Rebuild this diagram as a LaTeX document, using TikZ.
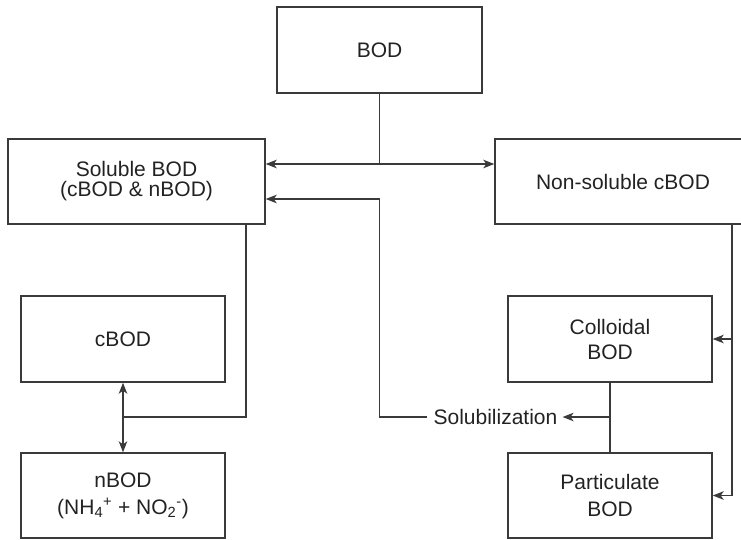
\documentclass[tikz,border=0pt]{standalone}
\usepackage{fontspec}
\setmainfont{Liberation Sans}
\usetikzlibrary{arrows.meta}
\definecolor{ink}{HTML}{222222}
\definecolor{wire}{HTML}{3a3a3a}
\begin{document}
\begin{tikzpicture}[x=1pt,y=-1pt,
  box/.style={draw=wire,line width=1.4pt,rectangle,text=ink,align=center,
              font=\fontsize{21}{25}\selectfont,inner sep=0pt},
  link/.style={draw=wire,line width=1.4pt},
  tip/.style={link,-{Stealth[length=11pt,width=8.5pt,inset=3pt]}},
  twotip/.style={link,{Stealth[length=11pt,width=8.5pt,inset=3pt]}-{Stealth[length=11pt,width=8.5pt,inset=3pt]}}]
\useasboundingbox (0,0) rectangle (741,539);
\clip (0,0) rectangle (741,539);

% boxes
\node[box,minimum width=205pt,minimum height=86pt] (bod) at (379.5,50) {BOD};
\node[box,minimum width=257pt,minimum height=85pt,font=\fontsize{21}{20}\selectfont] (sol) at (136.5,181.5)
  {Soluble BOD\\(cBOD \& nBOD)};
\node[box,minimum width=256pt,minimum height=85pt] (non) at (623,181.5) {Non-soluble cBOD};
\node[box,minimum width=204pt,minimum height=86pt] (cbod) at (123,339) {cBOD};
\node[box,minimum width=204pt,minimum height=85pt,font=\fontsize{21}{27}\selectfont] (nbod) at (123,495.5)
  {nBOD\\(NH\textsubscript{4}\textsuperscript{+} + NO\textsubscript{2}\textsuperscript{-})};
\node[box,minimum width=204pt,minimum height=86pt] (coll) at (610,339) {Colloidal\\BOD};
\node[box,minimum width=204pt,minimum height=85pt,font=\fontsize{21}{27}\selectfont] (part) at (610,495.5) {Particulate\\BOD};
\node[text=ink,font=\fontsize{21}{25}\selectfont,inner sep=0pt] (solub) at (495.5,417) {Solubilization};

% junction points
\coordinate (j1) at (379.5,164);
\coordinate (j2) at (379.5,199);
\coordinate (j3) at (379.5,417);
\coordinate (j4) at (246,417);
\coordinate (j5) at (123,417);
\coordinate (j6) at (610,417);
\coordinate (j7) at (732,224);

% BOD split into soluble and non-soluble
\draw[link] (bod.south) -- (j1);
\draw[twotip] (sol.east |- j1) -- (non.west |- j1);

% soluble into cBOD and nBOD
\draw[link] (sol.south -| j4) -- (j4) -- (j5);
\draw[twotip] (cbod.south) -- (nbod.north);

% non-soluble into colloidal and particulate
\draw[link] (non.south -| j7) -- (j7 |- part.east);
\draw[tip] (j7 |- coll.east) -- (coll.east);
\draw[tip] (j7 |- part.east) -- (part.east);

% solubilization path back to soluble BOD
\draw[link] (coll.south) -- (part.north);
\draw[tip] (j6) -- ([xshift=5pt]solub.east);
\draw[tip] ([xshift=-6pt]solub.west) -- (j3) -- (j2) -- (sol.east |- j2);
\end{tikzpicture}
\end{document}
